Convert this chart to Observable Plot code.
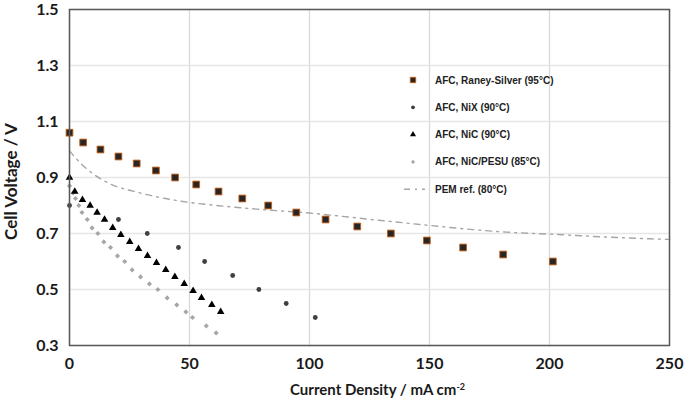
<!DOCTYPE html>
<html><head><meta charset="utf-8">
<script src="https://cdn.jsdelivr.net/npm/d3@7"></script>
<script src="https://cdn.jsdelivr.net/npm/@observablehq/plot@0.6"></script>
<style>
body{margin:0;background:#fff;}
#wrap{position:relative;width:685px;height:409px;overflow:hidden;}
#legend{position:absolute;left:0;top:0;}
</style></head><body><div id="wrap"></div>
<script>
// ---- data ----
const raneyX = [0, 5.7, 12.9, 20.4, 28.0, 36.0, 44.0, 52.8, 62.1, 72.0, 82.8, 94.5, 106.7, 119.9, 133.9, 148.9, 164.0, 180.7, 201.4];
const raneyY = [1.06, 1.025, 1.0, 0.975, 0.95, 0.925, 0.9, 0.875, 0.85, 0.825, 0.8, 0.775, 0.75, 0.725, 0.7, 0.675, 0.65, 0.625, 0.6];

const nixX = [0, 20.4, 32.4, 45.4, 56.3, 68.0, 78.9, 90.3, 102.4];
const nixY = [0.80, 0.75, 0.70, 0.65, 0.60, 0.55, 0.50, 0.45, 0.40];

const nicX = [0, 2.2, 5.4, 8.6, 11.5, 14.6, 18.0, 21.4, 25.1, 28.75, 32.5, 36.25, 40.1, 43.9, 47.8, 51.5, 55.0, 59.3, 63.0];
const nicY = [0.9, 0.85, 0.82, 0.80, 0.775, 0.75, 0.72, 0.695, 0.67, 0.645, 0.62, 0.595, 0.57, 0.545, 0.52, 0.495, 0.47, 0.445, 0.42];

const pesuX = [0, 1.5, 2.5, 3.9, 5.2, 7.4, 9.4, 11.8, 14.3, 17.1, 20.0, 23.0, 26.1, 29.6, 33.3, 36.8, 40.7, 44.7, 48.5, 51.25, 57.0, 61.1];
const pesuY = [0.87, 0.845, 0.825, 0.80, 0.775, 0.75, 0.72, 0.70, 0.67, 0.65, 0.62, 0.60, 0.57, 0.545, 0.52, 0.50, 0.47, 0.445, 0.42, 0.40, 0.37, 0.345];

const pemX = [0, 2, 5, 10, 17, 28, 40, 50, 65, 78, 100, 128, 150, 168, 182, 202, 222, 242, 250];
const pemY = [0.995, 0.975, 0.948, 0.912, 0.877, 0.848, 0.825, 0.811, 0.797, 0.787, 0.773, 0.748, 0.729, 0.714, 0.705, 0.697, 0.688, 0.681, 0.679];

const seriesNames = ["AFC, Raney-Silver (95°C)", "AFC, NiX (90°C)", "AFC, NiC (90°C)", "AFC, NiC/PESU (85°C)", "PEM ref. (80°C)"];

const xTicks = [0, 50, 100, 150, 200, 250];
const yTicks = [0.3, 0.5, 0.7, 0.9, 1.1, 1.3, 1.5];

const xTitle = "Current Density / mA cm-2";
const yTitle = "Cell Voltage / V";

// ---- build tables ----
const zip = (xs, ys) => xs.map((x, i) => ({x, y: ys[i]}));
const raney = zip(raneyX, raneyY);
const nix = zip(nixX, nixY);
const nic = zip(nicX, nicY);
const pesu = zip(pesuX, pesuY);
const pem = zip(pemX, pemY);

const styles = [
  {symbol: "square", fill: "#262626", stroke: "#c55a11", strokeWidth: 0.9, r: 3.8},
  {symbol: "circle", fill: "#3f3f3f", stroke: "none", strokeWidth: 0, r: 2.4},
  {symbol: "triangle", fill: "#000000", stroke: "none", strokeWidth: 0, r: 2.8},
  {symbol: "diamond2", fill: "#a6a6a6", stroke: "none", strokeWidth: 0, r: 2.3}
];
const pemStyle = {stroke: "#a6a6a6", strokeWidth: 1.4, dash: "6,5,2,5"};

const W = 685, H = 409;
const mL = 69, mT = 9, mR = 16, mB = 64;

const plot = Plot.plot({
  width: W, height: H,
  marginLeft: mL, marginTop: mT, marginRight: mR, marginBottom: mB,
  style: {fontFamily: "Lato, 'Open Sans', sans-serif", fontWeight: "bold", fontSize: "16px", color: "#1a1a1a", background: "#fff"},
  x: {domain: [0, 250]},
  y: {domain: [0.3, 1.5]},
  marks: [
    Plot.gridX(xTicks, {stroke: "#d9d9d9", strokeOpacity: 1, strokeWidth: 1.3}),
    Plot.gridY(yTicks, {stroke: "#e6e6e6", strokeOpacity: 1, strokeWidth: 1.3}),
    Plot.line(pem, {x: "x", y: "y", stroke: pemStyle.stroke, strokeWidth: pemStyle.strokeWidth, strokeDasharray: pemStyle.dash, curve: "monotone-x"}),
    Plot.dot(pesu, {x: "x", y: "y", symbol: styles[3].symbol, fill: styles[3].fill, r: styles[3].r}),
    Plot.dot(nix, {x: "x", y: "y", symbol: styles[1].symbol, fill: styles[1].fill, r: styles[1].r}),
    Plot.dot(nic, {x: "x", y: "y", symbol: styles[2].symbol, fill: styles[2].fill, r: styles[2].r}),
    Plot.dot(raney, {x: "x", y: "y", symbol: styles[0].symbol, fill: styles[0].fill, stroke: styles[0].stroke, strokeWidth: styles[0].strokeWidth, r: styles[0].r}),
    Plot.frame({stroke: "#595959", strokeWidth: 1.5}),
    Plot.axisX({ticks: xTicks, tickSize: 0, tickPadding: 12, label: null, tickFormat: d3.format("d")}),
    Plot.axisY({ticks: yTicks, tickSize: 0, tickPadding: 11, label: null, tickFormat: d3.format(".1f")}),
    Plot.text([yTitle], {frameAnchor: "left", textAnchor: "middle", rotate: -90, dx: -58, dy: 4, fontSize: 17, fontWeight: "bold", fill: "#1a1a1a"}),
    Plot.text([xTitle], {frameAnchor: "bottom", dx: 8, dy: 49, fontSize: 15, fontWeight: "bold", fill: "#1a1a1a"})
  ]
});

// superscript for cm-2
d3.select(plot).selectAll("text").filter(function(){ return this.textContent === xTitle; }).each(function(){
  const t = d3.select(this);
  t.text("Current Density / mA cm");
  t.append("tspan").attr("dy", "-0.45em").attr("font-size", "9px").text("-2");
});

const wrap = document.getElementById("wrap");
wrap.appendChild(plot);

// ---- legend (HTML-overlaid SVG) ----
const lg = d3.select(wrap).append("svg").attr("id", "legend").attr("width", W).attr("height", H)
  .style("font-family", "'Liberation Sans', Arial, sans-serif").style("font-weight", "bold").style("font-size", "10px");
const legX = 413, legTextX = 435, legTop = 80, legStep = 27.3;
seriesNames.forEach((name, i) => {
  const cy = legTop + i * legStep;
  if (i < 4) {
    const s = styles[i];
    const sym = {square: d3.symbolSquare, circle: d3.symbolCircle, triangle: d3.symbolTriangle, diamond2: d3.symbolDiamond2}[s.symbol];
    lg.append("path").attr("transform", `translate(${legX},${cy})`)
      .attr("d", d3.symbol(sym, Math.PI * (s.r * 0.8) ** 2)())
      .attr("fill", s.fill).attr("stroke", s.stroke).attr("stroke-width", s.strokeWidth);
  } else {
    lg.append("line").attr("x1", legX - 9).attr("x2", legX + 12).attr("y1", cy).attr("y2", cy)
      .attr("stroke", pemStyle.stroke).attr("stroke-width", pemStyle.strokeWidth).attr("stroke-dasharray", pemStyle.dash);
  }
  lg.append("text").attr("x", legTextX).attr("y", cy).attr("dy", "0.35em").attr("fill", "#222").text(name);
});
</script></body></html>
